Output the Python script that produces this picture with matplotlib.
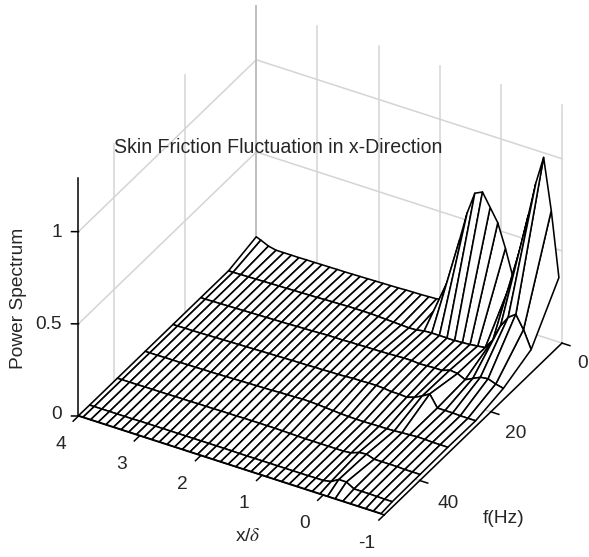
import numpy as np
import matplotlib
matplotlib.use("Agg")
import matplotlib.pyplot as plt
from matplotlib.text import Text
from mpl_toolkits.mplot3d import proj3d

plt.rcParams['font.family'] = ['Liberation Sans', 'DejaVu Sans']
plt.rcParams['mathtext.fontset'] = 'stix'

# ---- data ----
x_pos = [-0.95, -0.825, -0.7, -0.575, -0.45, -0.325, -0.2, -0.075, 0.05, 0.175,
         0.3, 0.425, 0.55, 0.675, 0.8, 0.925, 1.05, 1.175, 1.3, 1.425,
         1.55, 1.675, 1.8, 1.925, 2.05, 2.175, 2.3, 2.425, 2.55, 2.675,
         2.8, 2.925, 3.05, 3.175, 3.3, 3.425, 3.55, 3.675, 3.8, 3.925, 4.0]
f_hz = [0, 7.8125, 15.625, 23.4375, 31.25, 39.0625, 46.875, 50]
row0 = [.35, .70, .975, .825, .635, .45, .27, .415, .54, .61, .68, .66, .54, .38, .19, .03,
        .02, .018, .016, .015, .014, .012, .011, .01, .009, .008, .007, .006, .005, .005,
        .004, .004, .003, .003, .002, .002, .002, .002, .011, .03, .04]
row1 = [.105, .20, .27, .24, .18, .09, .035, .03, .025, .022, .02, .02, .02, .02, .018, .01,
        .008, .01, .012, .014, .016, .018, .018, .018, .018, .016, .015, .014, .012, .011,
        .01, .009, .008, .007, .006, .005, .004, .003, .002, .001, .001]
row2 = [.04, .05, .065, .06, .04, .02, .04, .045, .03, .03, .028, .026, .03, .03, .028, .026,
        .025, .024, .024, .022, .022, .02, .02, .02, .018, .016, .015, .014, .012, .011,
        .01, .009, .008, .007, .006, .005, .004, .003, .002, .001, .001]
row3 = [.01, .01, .01, .012, .012, .012, .075, .05, .03, .017, .02, .02, .025, .027, .027, .025,
        .025, .022, .02, .02, .018, .018, .016, .016, .015, .014, .013, .012, .011, .01,
        .009, .008, .007, .006, .005, .004, .003, .002, .002, .001, .001]
row4 = [.012, .012, .012, .014, .015, .012, .01, .007, .005, .005, .004, .003, .003, .004, .006, .009,
        .012, .015, .017, .018, .016, .015, .014, .012, .011, .01, .009, .008, .007, .006,
        .005, .004, .004, .003, .003, .002, .002, .002, .001, .001, .001]
row5 = [.01, .01, .01, .012, .012, .012, .012, .026, .022, .006, .002, .002, .002, .002, .002, .002,
        .003, .004, .005, .006, .006, .006, .006, .006, .005, .005, .005, .004, .004, .004,
        .003, .003, .003, .002, .002, .002, .002, .001, .001, .001, .001]
row6 = [.008, .008, .009, .01, .01, .01, .034, .034, .01, .002, .002, .001, .001, .001, .001, .001,
        .001, .001, .001, .001, .001, .002, .002, .002, .002, .002, .002, .002, .002, .002,
        .002, .002, .002, .002, .001, .001, .001, .001, .001, .001, .001]
row7 = [.002] * 41
x_ticks = [-1, 0, 1, 2, 3, 4]
f_ticks = [0, 20, 40]
z_ticks = [0, 0.5, 1]
z_labels = ['0', '0.5', '1']
x_range = (-1, 4)
f_range = (0, 50)
z_range = (0, 1.29)
title = 'Skin Friction Fluctuation in x-Direction'

# ---- figure ----
W, H = 589, 557
fig = plt.figure(figsize=(W / 100, H / 100), dpi=100, facecolor='white')
ax = fig.add_axes([0, 0, 500 / W, 500 / H], projection='3d', proj_type='ortho')
ax.view_init(elev=34.0, azim=120.05)
ax.set_box_aspect((353.6, 355.4, 287.2))
ax.set_xlim(*x_range, view_margin=0)
ax.set_ylim(*f_range, view_margin=0)
ax.set_zlim(*z_range, view_margin=0)
ax.set_xticks([])
ax.set_yticks([])
ax.set_zticks([])
ax.set_axis_off()
ax.computed_zorder = False
ax.patch.set_alpha(0)


def to_px(x, y, z):
    a, b, _ = proj3d.proj_transform(x, y, z, ax.get_proj())
    p = ax.transData.transform((a, b))
    return np.array([p[0], H - p[1]])


# place the axes so that two box corners land where they do in the reference
fig.canvas.draw()
target_a = np.array([78.5, 416.0])
target_b = np.array([562.0, 343.3])
pa, pb = to_px(x_range[1], f_range[1], 0), to_px(x_range[0], f_range[0], 0)
s = np.linalg.norm(target_b - target_a) / np.linalg.norm(pb - pa)
ax.set_position([0, 0, 500 * s / W, 500 * s / H])
fig.canvas.draw()
pa = to_px(x_range[1], f_range[1], 0)
sh = target_a - pa
ax.set_position([sh[0] / W, -sh[1] / H, 500 * s / W, 500 * s / H])
fig.canvas.draw()

# the 3D axes' own empty labels and titles are not used
for t in ax.findobj(Text):
    t.set_visible(False)

GRID = '#d4d4d4'
LW = 1.15
zt, ft, xt = z_range[1], f_range[0], x_range[1]
gkw = dict(color=GRID, lw=1.1, zorder=1)
for xv in x_ticks:
    ax.plot([xv, xv], [ft, ft], [0, zt], **gkw)
    ax.plot([xv, xv], list(f_range), [0, 0], **gkw)
for fv in f_ticks:
    ax.plot([xt, xt], [fv, fv], [0, zt], **gkw)
    ax.plot(list(x_range), [fv, fv], [0, 0], **gkw)
for zv in z_ticks[1:]:
    ax.plot([xt, xt], list(f_range), [zv, zv], **gkw)
    ax.plot(list(x_range), [ft, ft], [zv, zv], **gkw)
ax.plot([xt, xt], [ft, ft], [0, zt], color='#bdbdbd', lw=1.3, zorder=1)

X, Y = np.meshgrid(x_pos, f_hz)
Z = np.array([row0, row1, row2, row3, row4, row5, row6, row7])
ax.plot_surface(X, Y, Z, rstride=1, cstride=1, color='white', edgecolor='black',
                linewidth=LW, shade=False, antialiased=True, zorder=2)

akw = dict(color='black', lw=1.1, zorder=3, clip_on=False)
ax.plot(list(x_range), [f_range[1]] * 2, [0, 0], **akw)
ax.plot([x_range[0]] * 2, list(f_range), [0, 0], **akw)
ax.plot([x_range[1]] * 2, [f_range[1]] * 2, [0, 1.29], **akw)
for xv in x_ticks:
    ax.plot([xv, xv], [50, 51.5], [0, 0], **akw)
for fv in f_ticks:
    ax.plot([-1, -1.13], [fv, fv], [0, 0], **akw)
for zv in z_ticks:
    ax.plot([4, 4.086], [50, 50.49], [zv, zv], **akw)

FS = 13.8
TC = '#262626'
tkw = dict(fontsize=FS, color=TC, ha='center', va='center', zorder=4)
for xv in x_ticks:
    ax.text(xv - 0.03, 55.6, -0.047, str(xv), **tkw)
for fv in f_ticks:
    ax.text(-1.34 - fv * 0.003, fv, -0.075, str(fv), **tkw)
for zv, lab in zip(z_ticks, z_labels):
    ax.text(4.2, 51.16, zv + (0.007 if zv == 0 else -0.002), lab, **{**tkw, 'ha': 'right'})

fig.text(278.5 / W, 1 - 147.5 / H, title, fontsize=14.05, color=TC, ha='center', va='center')
fig.text(18.5 / W, 1 - 298 / H, 'Power Spectrum', fontsize=FS, color=TC, rotation=90,
         ha='center', va='center')
fig.text(247.7 / W, 1 - 536.7 / H, r'x/$\delta$', fontsize=FS, color=TC, ha='center', va='center')
fig.text(504 / W, 1 - 518.7 / H, 'f(Hz)', fontsize=FS, color=TC, ha='center', va='center')

fig.savefig('out.png', dpi=100)
